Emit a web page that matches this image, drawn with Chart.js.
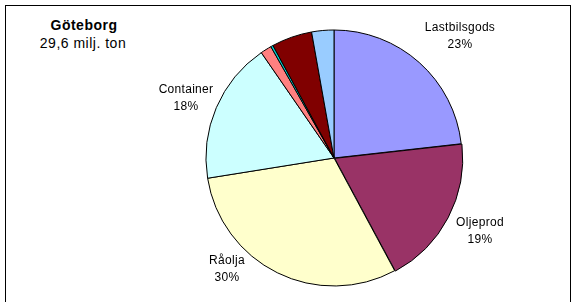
<!DOCTYPE html>
<html lang="sv">
<head>
  <meta charset="UTF-8" />
  <title>Göteborg</title>
  <script src="https://cdn.jsdelivr.net/npm/chart.js"></script>
  <style>
    html, body {
      margin: 0;
      padding: 0;
      background: #fff;
      font-family: "Liberation Sans", Arial, sans-serif;
    }
    .wrap {
      position: relative;
      width: 575px;
      height: 302px;
      overflow: hidden;
    }
    .frame {
      position: absolute;
      left: 5px;
      top: 5px;
      width: 566px;
      height: 310px;
      border: 1px solid #000;
      box-sizing: border-box;
    }
    .t {
      position: absolute;
      width: 140px;
      text-align: center;
      font-size: 14px;
      line-height: 18px;
      letter-spacing: 0.5px;
      color: #000;
      white-space: nowrap;
    }
    .t1 { left: 14px; top: 16px; font-weight: bold; }
    .t2 { left: 13px; top: 34px; }
    canvas { position: absolute; left: 0; top: 0; }
  </style>
</head>
<body>
  <div class="wrap">
    <div class="frame"></div>
    <div class="t t1">Göteborg</div>
    <div class="t t2">29,6 milj. ton</div>
    <canvas id="pie" width="575" height="302"></canvas>
  </div>

  <script>
    // andelar i procent, medurs från kl 12
    const labels = ['Lastbilsgods', 'Oljeprod', 'Råolja', 'Container', 'Övrigt 1', 'Övrigt 2', 'Övrigt 3', 'Övrigt 4'];
    const values = [23.2, 18.9, 30.3, 17.9, 1.4, 0.3, 5.1, 2.8];
    const colors = ['#9999FF', '#993366', '#FFFFCC', '#CCFFFF', '#FF8080', '#00CCCC', '#800000', '#99CCFF'];
    const shownLabels = ['Lastbilsgods', 'Oljeprod', 'Råolja', 'Container'];

    // etikettens mitt (namnraden) relativt pajens mitt
    const labelOffsets = {
      'Lastbilsgods': [126, -131],
      'Oljeprod': [146, 64],
      'Råolja': [-107, 102],
      'Container': [-148, -69]
    };

    const sliceLabels = {
      id: 'sliceLabels',
      afterDatasetsDraw(chart) {
        const ctx = chart.ctx;
        const meta = chart.getDatasetMeta(0);
        const total = values.reduce((a, b) => a + b, 0);
        ctx.save();
        ctx.font = '12px "Liberation Sans", Arial, sans-serif';
        ctx.letterSpacing = '0.3px';
        ctx.fillStyle = '#000';
        ctx.textAlign = 'center';
        ctx.textBaseline = 'alphabetic';
        meta.data.forEach((arc, i) => {
          const name = labels[i];
          if (!shownLabels.includes(name)) return;
          const off = labelOffsets[name];
          const x = arc.x + off[0];
          const y = arc.y + off[1];
          const pct = Math.round(values[i] / total * 100) + '%';
          ctx.fillText(name, x, y + 4.3);
          ctx.fillText(pct, x, y + 17 + 4.3);
        });
        ctx.restore();
      }
    };

    new Chart(document.getElementById('pie'), {
      type: 'pie',
      data: {
        labels: labels,
        datasets: [{
          data: values,
          backgroundColor: colors,
          borderColor: '#000',
          borderWidth: 1,
          offset: [0, 3, 0, 0, 0, 0, 0, 0]
        }]
      },
      options: {
        responsive: false,
        animation: false,
        layout: { padding: { left: 204, right: 111, top: 28, bottom: 14 } },
        plugins: {
          legend: { display: false },
          tooltip: { enabled: false }
        }
      },
      plugins: [sliceLabels]
    });
  </script>
</body>
</html>
